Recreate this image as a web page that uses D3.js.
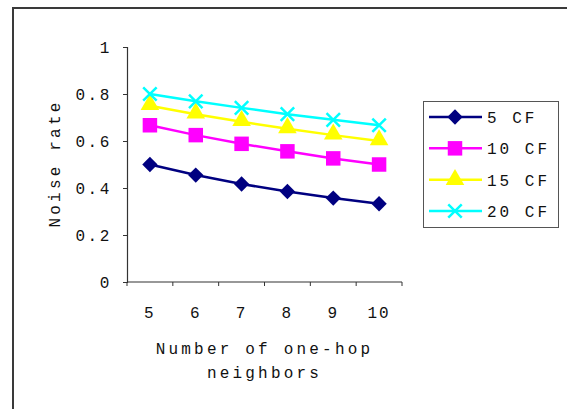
<!DOCTYPE html>
<html>
<head>
<meta charset="utf-8">
<script src="https://cdn.jsdelivr.net/npm/d3@7"></script>
<style>
  body { margin: 0; background: #fff; }
  svg { display: block; }
  text { font-family: "Liberation Mono", "DejaVu Sans Mono", monospace; fill: #111; }
</style>
</head>
<body>
<svg id="chart"></svg>
<script>
var neighbors = ['5', '6', '7', '8', '9', '10'],
  cf5 = [0.5, 0.455, 0.417, 0.385, 0.357, 0.333],
  cf10 = [0.667, 0.625, 0.588, 0.556, 0.526, 0.5],
  cf15 = [0.75, 0.714, 0.682, 0.652, 0.625, 0.6],
  cf20 = [0.8, 0.769, 0.741, 0.714, 0.69, 0.667],
  seriesNames = ['5 CF', '10 CF', '15 CF', '20 CF'],
  yTicks = [0, 0.2, 0.4, 0.6, 0.8, 1];

var width = 567,
  height = 409,
  margin = { top: 47, right: 165, bottom: 127, left: 127 },
  colors = ['#000080', '#FF00FF', '#FFFF00', '#00FFFF'],
  symbols = [d3.symbolDiamond2, d3.symbolSquare, d3.symbolTriangle, d3.symbolX];

var series = [cf5, cf10, cf15, cf20].map((vals, i) => ({
  name: seriesNames[i],
  values: vals.map((v, j) => ({ x: neighbors[j], y: v }))
}));

var svg = d3.select('#chart').attr('width', width).attr('height', height);

// outer frame (clipped at right and bottom like the screenshot)
svg.append('path')
  .attr('d', 'M13,' + height + ' V8 H' + width)
  .attr('fill', 'none')
  .attr('stroke', '#3a3a3a')
  .attr('stroke-width', 2);

var xScale = d3.scaleBand()
    .domain(neighbors)
    .range([margin.left, width - margin.right])
    .paddingInner(0),
  yScale = d3.scaleLinear()
    .domain([0, 1])
    .range([height - margin.bottom, margin.top]);

var x0 = margin.left, y0 = height - margin.bottom;

// y axis
var yAxis = d3.axisLeft(yScale).tickValues(yTicks).tickFormat(d3.format('~g')).tickSize(4).tickPadding(11);
var gy = svg.append('g').attr('transform', 'translate(' + x0 + ',0)').call(yAxis);
gy.select('.domain').attr('stroke', '#333').attr('stroke-width', 1.2);
gy.selectAll('.tick line').attr('stroke', '#333');
gy.selectAll('.tick text')
  .style('font-family', '"Liberation Mono", monospace')
  .style('font-size', '16px')
  .style('letter-spacing', '2.6px')
  .attr('fill', '#111');

// x axis: labels centered in bands, ticks on band boundaries
var xAxis = d3.axisBottom(xScale).tickSize(0).tickPadding(25);
var gx = svg.append('g').attr('transform', 'translate(0,' + y0 + ')').call(xAxis);
gx.select('.domain').remove();
gx.selectAll('.tick text')
  .style('font-family', '"Liberation Mono", monospace')
  .style('font-size', '16px')
  .style('letter-spacing', '2px')
  .attr('fill', '#111');
svg.append('line')
  .attr('x1', x0).attr('x2', xScale.range()[1])
  .attr('y1', y0).attr('y2', y0)
  .attr('stroke', '#333').attr('stroke-width', 1.2);
var bounds = neighbors.map((c) => xScale(c) + xScale.bandwidth()).concat([x0]);
svg.selectAll('.xtick')
  .data(bounds)
  .enter()
  .append('line')
  .attr('x1', (d) => d).attr('x2', (d) => d)
  .attr('y1', y0).attr('y2', y0 + 4)
  .attr('stroke', '#333');

// axis titles
svg.append('text')
  .attr('x', (x0 + xScale.range()[1]) / 2)
  .attr('y', 354)
  .attr('text-anchor', 'middle')
  .style('font-size', '16px')
  .style('letter-spacing', '3.2px')
  .text('Number of one-hop');
svg.append('text')
  .attr('x', (x0 + xScale.range()[1]) / 2)
  .attr('y', 378)
  .attr('text-anchor', 'middle')
  .style('font-size', '16px')
  .style('letter-spacing', '3.2px')
  .text('neighbors');
svg.append('text')
  .attr('transform', 'translate(60,' + (yScale(0.5) - 1) + ') rotate(-90)')
  .attr('text-anchor', 'middle')
  .style('font-size', '16px')
  .style('letter-spacing', '3.2px')
  .text('Noise rate');

var cx = (d) => xScale(d.x) + xScale.bandwidth() / 2;
var line = d3.line().x(cx).y((d) => yScale(d.y));

var gs = svg.selectAll('.series')
  .data(series)
  .enter()
  .append('g');

gs.append('path')
  .attr('d', (d) => line(d.values))
  .attr('fill', 'none')
  .attr('stroke', (d, i) => colors[i])
  .attr('stroke-width', 2.5);

var symSizes = [150, 210, 150, 120];
function drawMarker(sel, i) {
  var sym = d3.symbol().type(symbols[i]).size(symSizes[i]);
  if (i === 3) {
    sel.append('path').attr('d', sym()).attr('fill', 'none')
      .attr('stroke', colors[i]).attr('stroke-width', 2.5);
  } else {
    sel.append('path').attr('d', sym()).attr('fill', colors[i]).attr('stroke', 'none');
  }
}

gs.each(function (d, i) {
  var g = d3.select(this);
  g.selectAll('.pt')
    .data(d.values)
    .enter()
    .append('g')
    .attr('transform', (p) => 'translate(' + cx(p) + ',' + yScale(p.y) + ')' + (i === 2 ? ' translate(0,-1)' : ''))
    .each(function () { drawMarker(d3.select(this), i); });
});

// legend
var legend = svg.append('g');
legend.append('rect')
  .attr('x', 423.5).attr('y', 101.5)
  .attr('width', 135).attr('height', 126)
  .attr('fill', '#fff')
  .attr('stroke', '#555')
  .attr('stroke-width', 1);

var rowY = d3.scalePoint().domain(seriesNames).range([117, 211]);
var items = legend.selectAll('.item')
  .data(series)
  .enter()
  .append('g')
  .attr('transform', (d) => 'translate(0,' + rowY(d.name) + ')');
items.append('line')
  .attr('x1', 429).attr('x2', 482)
  .attr('stroke', (d, i) => colors[i])
  .attr('stroke-width', 2.5);
items.each(function (d, i) {
  var m = d3.select(this).append('g').attr('transform', 'translate(455,0)');
  drawMarker(m, i);
});
items.append('text')
  .attr('x', 487)
  .attr('y', 6)
  .style('font-size', '16px')
  .style('letter-spacing', '3px')
  .text((d) => d.name);
</script>
</body>
</html>
